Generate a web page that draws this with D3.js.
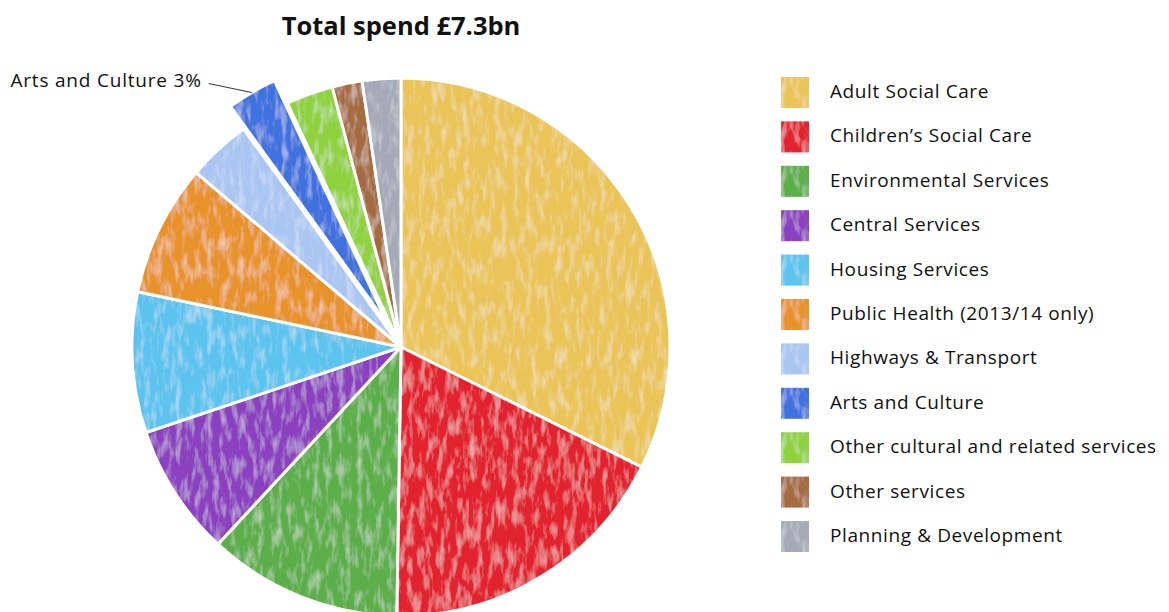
<!DOCTYPE html>
<html>
<head>
<meta charset="utf-8">
<script src="https://cdn.jsdelivr.net/npm/d3@7"></script>
<style>
  html, body { margin: 0; padding: 0; background: #ffffff; }
  svg { display: block; }
  text { font-family: "Open Sans", "Noto Sans", sans-serif; fill: #111; }
</style>
</head>
<body>
<svg id="chart" width="1169" height="612"></svg>
<script>
// Spending categories (share of total, %), clockwise from 12 o'clock
const categories = [
  "Adult Social Care",
  "Children\u2019s Social Care",
  "Environmental Services",
  "Central Services",
  "Housing Services",
  "Public Health (2013/14 only)",
  "Highways & Transport",
  "Arts and Culture",
  "Other cultural and related services",
  "Other services",
  "Planning & Development"
];
const shares = [32.2, 17.8, 11.6, 7.9, 8.4, 7.9, 3.8, 3.0, 2.8, 1.8, 2.3];
const colours = [
  "#eac457", "#e2222d", "#5bae48", "#8b3fbf", "#5cc3ee", "#e8932c",
  "#a9c5f2", "#3f72df", "#8fd23c", "#a66a40", "#a3a9b6"
];
const title = "Total spend \u00a37.3bn";
const highlighted = "Arts and Culture";
const highlightLabel = "Arts and Culture 3%";

const svg = d3.select("#chart");

// crayon-like texture: faint light strokes over each wedge
const defs = svg.append("defs");
const f = defs.append("filter").attr("id", "crayon")
  .attr("x", "-5%").attr("y", "-5%").attr("width", "110%").attr("height", "110%");
f.append("feTurbulence").attr("type", "fractalNoise")
  .attr("baseFrequency", "0.16 0.045").attr("numOctaves", 3).attr("seed", 11).attr("result", "noise");
f.append("feColorMatrix").attr("in", "noise").attr("type", "matrix")
  .attr("values", "0 0 0 0 1  0 0 0 0 1  0 0 0 0 1  0.9 0 0 0 -0.42").attr("result", "specks");
f.append("feGaussianBlur").attr("in", "specks").attr("stdDeviation", 0.7).attr("result", "specksSoft");
f.append("feComposite").attr("in", "specksSoft").attr("in2", "SourceGraphic").attr("operator", "in").attr("result", "specksIn");
const merge = f.append("feMerge").attr("result", "merged");
merge.append("feMergeNode").attr("in", "SourceGraphic");
merge.append("feMergeNode").attr("in", "specksIn");
f.append("feGaussianBlur").attr("in", "merged").attr("stdDeviation", 0.6);

const cx = 401, cy = 347, radius = 269, explode = 26;

const colour = d3.scaleOrdinal().domain(categories).range(colours);

const pie = d3.pie().sort(null).value(d => d.value);
const data = categories.map((c, i) => ({ name: c, value: shares[i] }));
const arcs = pie(data);
const arc = d3.arc().innerRadius(0).outerRadius(radius);

const g = svg.append("g").attr("transform", `translate(${cx},${cy})`);

function offset(d) {
  if (d.data.name !== highlighted) return [0, 0];
  const a = (d.startAngle + d.endAngle) / 2;
  return [Math.sin(a) * explode, -Math.cos(a) * explode];
}

g.selectAll("path.slice")
  .data(arcs)
  .join("path")
  .attr("class", "slice")
  .attr("d", arc)
  .attr("transform", d => `translate(${offset(d)})`)
  .attr("fill", d => colour(d.data.name))
  .attr("stroke", "#ffffff")
  .attr("stroke-width", 3)
  .attr("stroke-linejoin", "round")
  .attr("filter", "url(#crayon)");

// call-out for the exploded wedge
const hi = arcs.find(d => d.data.name === highlighted);
const midA = (hi.startAngle + hi.endAngle) / 2;
const tip = [Math.sin(midA) * (radius + explode) + cx, -Math.cos(midA) * (radius + explode) + cy];
const lineStart = [tip[0] - 43, tip[1] - 9];
svg.append("line")
  .attr("x1", lineStart[0]).attr("y1", lineStart[1])
  .attr("x2", tip[0]).attr("y2", tip[1])
  .attr("stroke", "#333").attr("stroke-width", 1);
svg.append("text")
  .attr("x", lineStart[0] - 7).attr("y", lineStart[1] + 3)
  .attr("text-anchor", "end")
  .attr("font-size", 19)
  .attr("letter-spacing", 0.8)
  .text(highlightLabel);

// title, centred over the pie
svg.append("text")
  .attr("x", cx).attr("y", 35)
  .attr("text-anchor", "middle")
  .attr("font-size", 25.5)
  .attr("font-weight", 700)
  .text(title);

// legend
const legendY = d3.scalePoint().domain(categories).range([92, 536]);
const legend = svg.append("g").attr("class", "legend");
const rows = legend.selectAll("g").data(categories).join("g")
  .attr("transform", d => `translate(781,${legendY(d)})`);
rows.append("rect")
  .attr("x", 0).attr("y", -15).attr("width", 28).attr("height", 31)
  .attr("fill", d => colour(d))
  .attr("filter", "url(#crayon)");
rows.append("text")
  .attr("x", 49).attr("y", 6)
  .attr("font-size", 19)
  .attr("letter-spacing", 0.6)
  .text(d => d);
</script>
</body>
</html>
